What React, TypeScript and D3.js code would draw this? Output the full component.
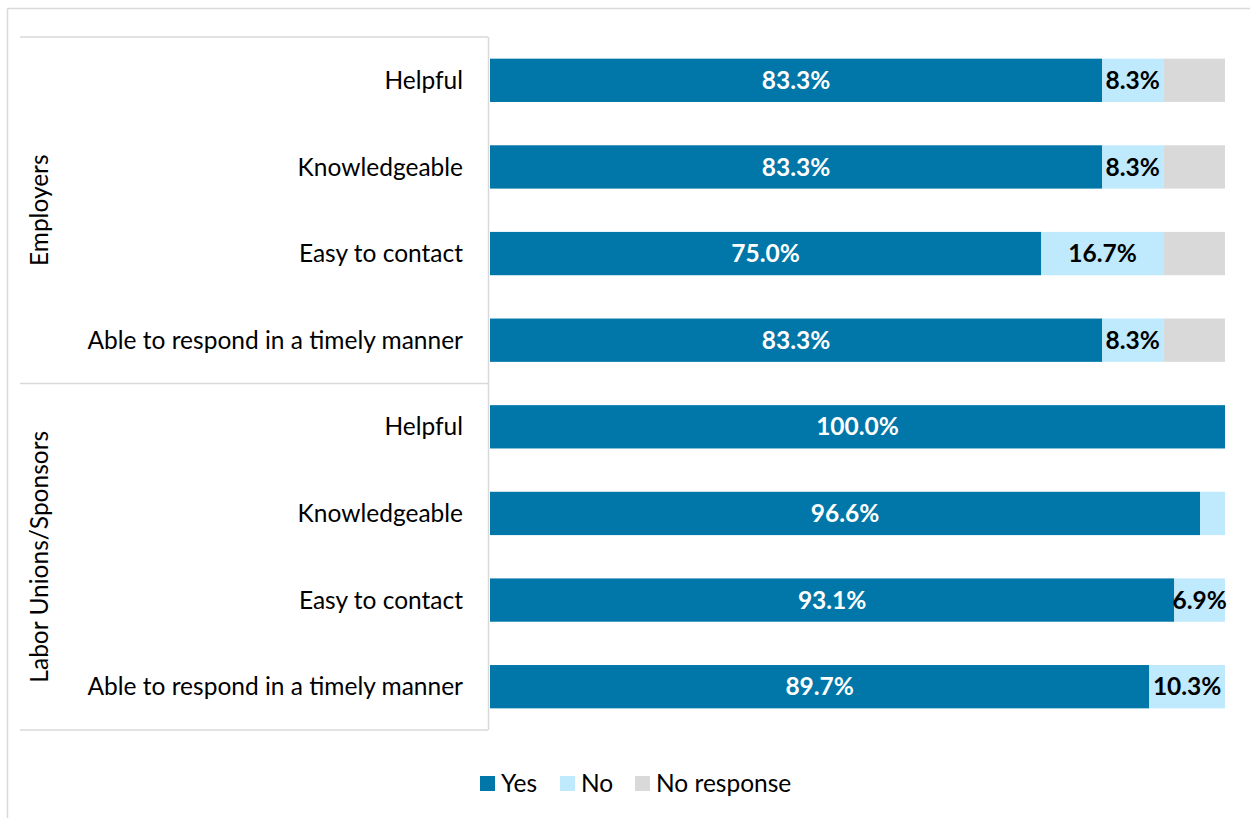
import React from "react";
import * as d3 from "d3";

const groups = ["Employers", "Labor Unions/Sponsors"];
const items = ["Helpful", "Knowledgeable", "Easy to contact", "Able to respond in a timely manner"];
const categories = [
  "Employers|Helpful", "Employers|Knowledgeable", "Employers|Easy to contact", "Employers|Able to respond in a timely manner",
  "Labor Unions/Sponsors|Helpful", "Labor Unions/Sponsors|Knowledgeable", "Labor Unions/Sponsors|Easy to contact", "Labor Unions/Sponsors|Able to respond in a timely manner",
];
const yesValues = [83.3, 83.3, 75.0, 83.3, 100.0, 96.6, 93.1, 89.7];
const noValues = [8.3, 8.3, 16.7, 8.3, 0, 3.4, 6.9, 10.3];
const noResponseValues = [8.4, 8.4, 8.3, 8.4, 0, 0, 0, 0];
const seriesNames = ["Yes", "No", "No response"];
const seriesColors = ["#0077a8", "#bfe9fc", "#d9d9d9"];

const W = 1250;
const H = 818;
const FONT = "Lato, 'Open Sans', sans-serif";
const FS = 24.5;

export default function App() {
  const x = d3.scaleLinear().domain([0, 100]).range([490, 1225]);
  const y = d3.scaleBand().domain(categories).range([37, 730]).paddingInner(0.5).paddingOuter(0.25);
  const bandStep = y.step();
  const stackData = categories.map((c, i) => ({
    cat: c,
    Yes: yesValues[i],
    No: noValues[i],
    "No response": noResponseValues[i],
  }));
  const stacked = d3.stack<any>().keys(seriesNames)(stackData);

  const groupTop = (g: number) => y(categories[g * 4])! - y.paddingOuter() * bandStep;
  const groupBottom = (g: number) => y(categories[g * 4 + 3])! + y.bandwidth() + y.paddingOuter() * bandStep;

  const legendX = [480, 560, 635];

  return (
    <svg width={W} height={H} style={{ position: "absolute", left: 0, top: 0 }} fontFamily={FONT}>
      <rect x={0} y={0} width={W} height={H} fill="#fff" />
      {/* outer border */}
      <line x1={7.5} y1={8.5} x2={W} y2={8.5} stroke="#d9d9d9" strokeWidth={1.5} />
      <line x1={7.5} y1={8.5} x2={7.5} y2={H} stroke="#d9d9d9" strokeWidth={1.5} />
      {/* table lines */}
      {[0, 1].map((g) => (
        <line key={"gt" + g} x1={20} x2={488} y1={groupTop(g)} y2={groupTop(g)} stroke="#d9d9d9" strokeWidth={1.5} />
      ))}
      <line x1={20} x2={488} y1={groupBottom(1)} y2={groupBottom(1)} stroke="#d9d9d9" strokeWidth={1.5} />
      <line x1={488.5} x2={488.5} y1={groupTop(0)} y2={groupBottom(1)} stroke="#d9d9d9" strokeWidth={1.5} />

      {/* group labels */}
      {groups.map((g, gi) => {
        const cy = (groupTop(gi) + groupBottom(gi)) / 2;
        return (
          <text key={g} transform={`translate(48,${cy}) rotate(-90)`} textAnchor="middle" fontSize={FS} fill="#000">
            {g}
          </text>
        );
      })}

      {/* category labels */}
      {categories.map((c, i) => (
        <text key={c} x={463} y={y(c)! + y.bandwidth() / 2} dy="0.35em" textAnchor="end" fontSize={FS} fill="#000">
          {items[i % 4]}
        </text>
      ))}

      {/* bars */}
      {stacked.map((s, si) => (
        <g key={s.key}>
          {s.map((d, i) => {
            const w = x(d[1]) - x(d[0]);
            if (w <= 0) return null;
            return (
              <rect key={i} x={x(d[0])} y={y(categories[i])} width={w} height={y.bandwidth()} fill={seriesColors[si]} />
            );
          })}
        </g>
      ))}

      {/* labels */}
      {stacked.map((s, si) =>
        si === 2
          ? null
          : s.map((d, i) => {
              const v = d[1] - d[0];
              if (v < 5) return null;
              return (
                <text
                  key={s.key + i}
                  x={(x(d[0]) + x(d[1])) / 2}
                  y={y(categories[i])! + y.bandwidth() / 2}
                  dy="0.35em"
                  textAnchor="middle"
                  fontSize={FS}
                  fontWeight="bold"
                  fill={si === 0 ? "#fff" : "#000"}
                >
                  {v.toFixed(1) + "%"}
                </text>
              );
            })
      )}

      {/* legend */}
      {seriesNames.map((n, i) => (
        <g key={n}>
          <rect x={legendX[i]} y={776} width={15} height={15} fill={seriesColors[i]} />
          <text x={legendX[i] + 21} y={783.5} dy="0.35em" fontSize={FS} fill="#000">
            {n}
          </text>
        </g>
      ))}
    </svg>
  );
}
